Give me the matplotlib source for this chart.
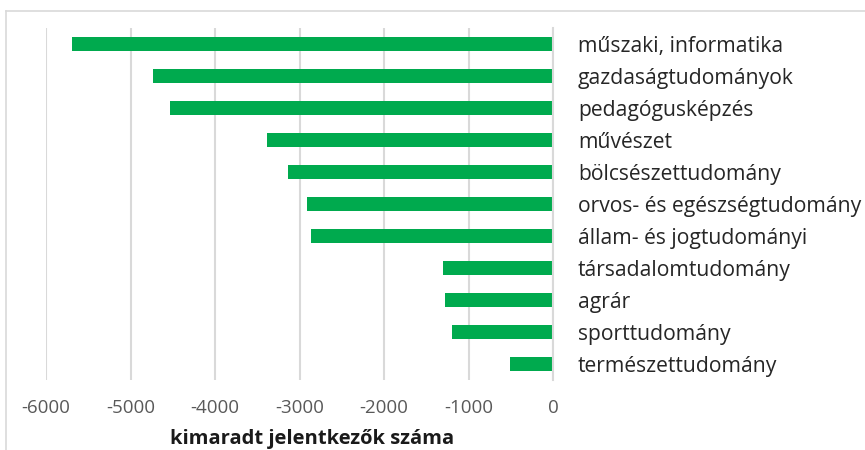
import matplotlib
matplotlib.use("Agg")
import matplotlib.pyplot as plt
from matplotlib.lines import Line2D

# categories (top to bottom) and number of rejected applicants (negative)
categories = [
    "műszaki, informatika",
    "gazdaságtudományok",
    "pedagógusképzés",
    "művészet",
    "bölcsészettudomány",
    "orvos- és egészségtudomány",
    "állam- és jogtudományi",
    "társadalomtudomány",
    "agrár",
    "sporttudomány",
    "természettudomány",
]
values = [-5690, -4730, -4530, -3385, -3140, -2910, -2865, -1300, -1280, -1190, -510]
xticks = [-6000, -5000, -4000, -3000, -2000, -1000, 0]

plt.rcParams["font.family"] = ["Open Sans", "DejaVu Sans"]

fig = plt.figure(figsize=(8.65, 4.5), dpi=100)
W, H = 865, 450
ax = fig.add_axes([46 / W, 1 - 380 / H, (553 - 46) / W, (380 - 28) / H])

y = list(range(len(categories)))
ax.barh(y, values, height=0.46, color="#00AA4E", zorder=2)

ax.set_xlim(-6000, 0)
ax.set_ylim(len(categories) - 0.5, -0.5)
ax.set_xticks(xticks)
ax.set_xticklabels([str(t) for t in xticks], fontsize=13.5, color="#595959")
ax.tick_params(axis="x", length=0, pad=14)

# category names on the right side of the zero line
ax.yaxis.tick_right()
ax.set_yticks(y)
ax.set_yticklabels(categories, fontsize=15.2, color="#262626")
ax.tick_params(axis="y", length=0, pad=18)

ax.grid(axis="x", color="#d9d9d9", linewidth=1.5, zorder=0)
for s in ["top", "left", "bottom"]:
    ax.spines[s].set_visible(False)
ax.spines["right"].set_color("#d9d9d9")
ax.spines["right"].set_linewidth(1.5)
ax.spines["right"].set_zorder(3)

ax.set_xlabel("kimaradt jelentkezők száma", fontsize=14.5, fontweight="bold",
              color="#1a1a1a")
ax.xaxis.set_label_coords(0.525, -0.138)

# light frame of the chart area
fig.add_artist(Line2D([6 / W, 6 / W], [0, 1 - 11 / H], color="#d9d9d9", lw=1.2))
fig.add_artist(Line2D([6 / W, 1], [1 - 11 / H, 1 - 11 / H], color="#d9d9d9", lw=1.2))

fig.savefig("out.png", dpi=100)
